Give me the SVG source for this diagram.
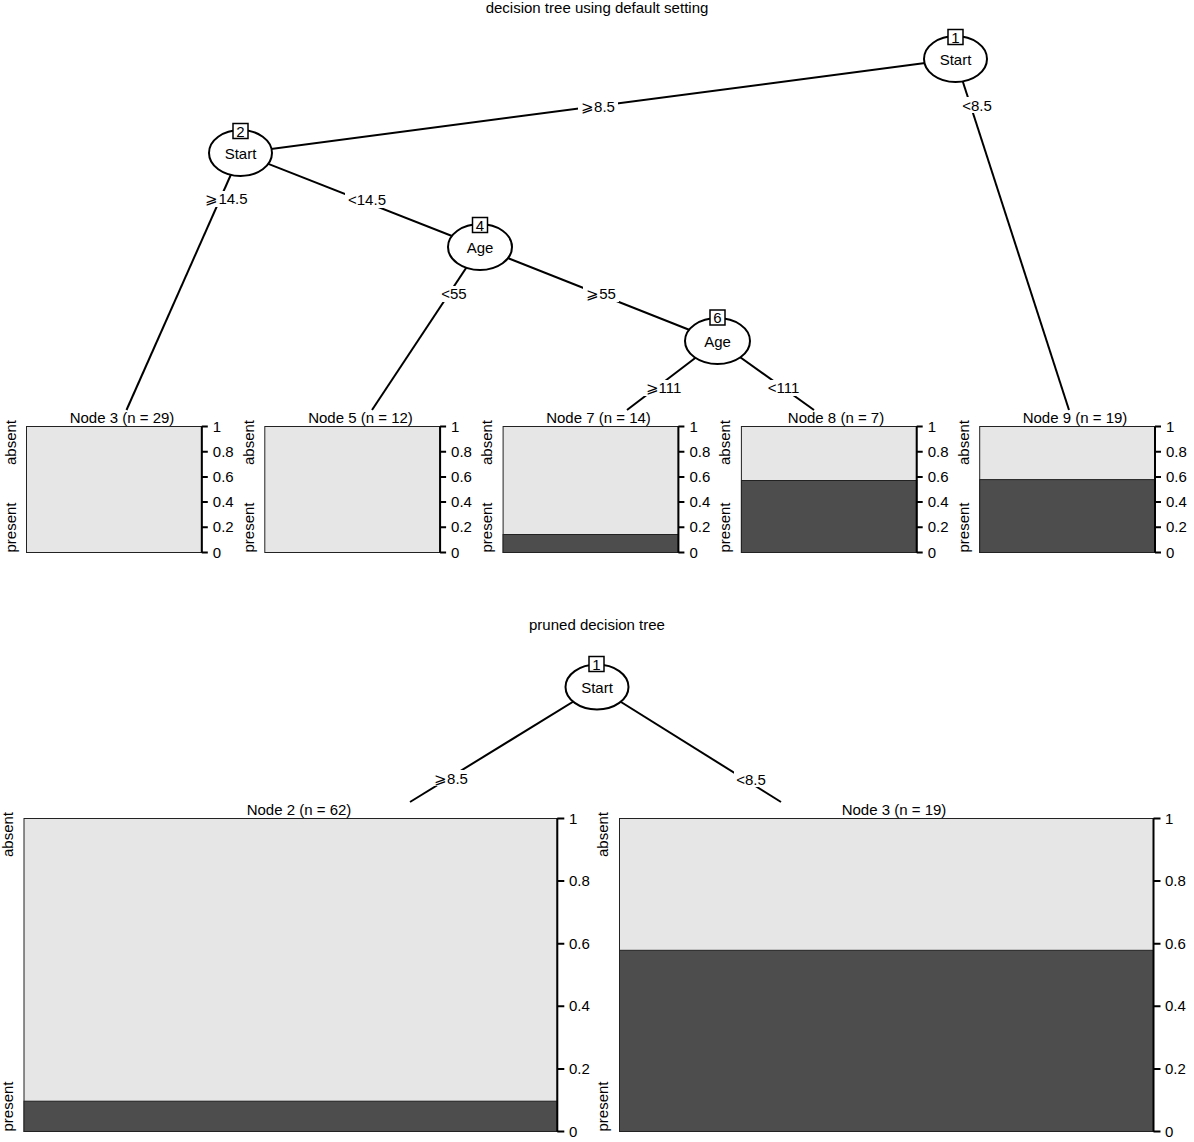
<svg xmlns="http://www.w3.org/2000/svg" width="1194" height="1142" viewBox="0 0 1194 1142">
  <style>
    text { font-family: "Liberation Sans", Arial, sans-serif; font-size: 15px; fill: #000; }
    .mid { text-anchor: middle; }
    .edge { stroke: #000; stroke-width: 2; fill: none; }
    .lblbg { fill: #fff; stroke: none; }
    .inner { fill: #fff; stroke: #000; stroke-width: 2; }
    .idbox { fill: #fff; stroke: #000; stroke-width: 1.5; }
    .light { fill: #e6e6e6; stroke: #222; stroke-width: 1; }
    .dark { fill: #4d4d4d; stroke: #222; stroke-width: 1; }
    .axis { stroke: #000; stroke-width: 2; fill: none; }
  </style>
  <rect width="1194" height="1142" fill="#fff"/>

  <!-- titles -->
  <text class="mid" x="597" y="13">decision tree using default setting</text>
  <text class="mid" x="597" y="630">pruned decision tree</text>

  <!-- connectors -->
  <g id="connectors">
    <line class="edge" x1="955.5" y1="59" x2="240.5" y2="153"/>
    <line class="edge" x1="955.5" y1="59" x2="1069" y2="410"/>
    <line class="edge" x1="240.5" y1="153" x2="126.5" y2="410"/>
    <line class="edge" x1="240.5" y1="153" x2="480" y2="247"/>
    <line class="edge" x1="480" y1="247" x2="372" y2="410"/>
    <line class="edge" x1="480" y1="247" x2="717.5" y2="341"/>
    <line class="edge" x1="717.5" y1="341" x2="627" y2="410"/>
    <line class="edge" x1="717.5" y1="341" x2="814" y2="410"/>
    <line class="edge" x1="597" y1="687" x2="410" y2="802"/>
    <line class="edge" x1="597" y1="687" x2="781" y2="802"/>

    <rect class="lblbg" x="578" y="98" width="40" height="16"/>
    <text class="mid" x="598" y="111.5">⩾8.5</text>
    <rect class="lblbg" x="960" y="97" width="34" height="16"/>
    <text class="mid" x="977" y="110.5">&lt;8.5</text>
    <rect class="lblbg" x="203" y="191" width="47" height="16"/>
    <text class="mid" x="226.5" y="204">⩾14.5</text>
    <rect class="lblbg" x="345" y="192" width="44" height="16"/>
    <text class="mid" x="367" y="205">&lt;14.5</text>
    <rect class="lblbg" x="438" y="286" width="32" height="16"/>
    <text class="mid" x="454" y="299">&lt;55</text>
    <rect class="lblbg" x="583" y="286" width="36" height="16"/>
    <text class="mid" x="601" y="299">⩾55</text>
    <rect class="lblbg" x="642" y="380" width="43" height="16"/>
    <text class="mid" x="663.5" y="393">⩾111</text>
    <rect class="lblbg" x="764" y="380" width="39" height="16"/>
    <text class="mid" x="783.5" y="393">&lt;111</text>
    <rect class="lblbg" x="431" y="770" width="40" height="16"/>
    <text class="mid" x="451" y="783.5">⩾8.5</text>
    <rect class="lblbg" x="734" y="771" width="34" height="16"/>
    <text class="mid" x="751" y="784.5">&lt;8.5</text>
  </g>

  <!-- inner nodes, full tree -->
  <g id="node-1">
    <ellipse class="inner" cx="955.5" cy="59" rx="31.5" ry="23"/>
    <text class="mid" x="955.5" y="64.5">Start</text>
    <rect class="idbox" x="948" y="29.5" width="15" height="15"/>
    <text class="mid" x="955.5" y="42.5">1</text>
  </g>
  <g id="node-2">
    <ellipse class="inner" cx="240.5" cy="153" rx="31.5" ry="23"/>
    <text class="mid" x="240.5" y="158.5">Start</text>
    <rect class="idbox" x="233" y="123.5" width="15" height="15"/>
    <text class="mid" x="240.5" y="136.5">2</text>
  </g>
  <g id="node-4">
    <ellipse class="inner" cx="480" cy="247" rx="32" ry="23"/>
    <text class="mid" x="480" y="252.5">Age</text>
    <rect class="idbox" x="472.5" y="217.5" width="15" height="15"/>
    <text class="mid" x="480" y="230.5">4</text>
  </g>
  <g id="node-6">
    <ellipse class="inner" cx="717.5" cy="341" rx="32.5" ry="23"/>
    <text class="mid" x="717.5" y="346.5">Age</text>
    <rect class="idbox" x="710" y="310" width="15" height="15"/>
    <text class="mid" x="717.5" y="323">6</text>
  </g>

  <!-- terminal nodes, full tree -->
  <g id="node-3">
    <text class="mid" x="122" y="423">Node 3 (n = 29)</text>
    <rect class="light" x="26.5" y="426.5" width="175.3" height="126"/>
    <path class="axis" d="M201.8 426.5V552.5M201.8 552.5h6M201.8 527.3h6M201.8 502.1h6M201.8 476.9h6M201.8 451.7h6M201.8 426.5h6"/>
    <text x="212.8" y="557.5">0</text><text x="212.8" y="532.3">0.2</text><text x="212.8" y="507.1">0.4</text><text x="212.8" y="481.9">0.6</text><text x="212.8" y="456.7">0.8</text><text x="212.8" y="431.5">1</text>
    <text transform="translate(15.5 420) rotate(-90)" text-anchor="end">absent</text>
    <text transform="translate(15.5 552.5) rotate(-90)">present</text>
  </g>
  <g id="node-5">
    <text class="mid" x="360.5" y="423">Node 5 (n = 12)</text>
    <rect class="light" x="264.8" y="426.5" width="175.3" height="126"/>
    <path class="axis" d="M440.1 426.5V552.5M440.1 552.5h6M440.1 527.3h6M440.1 502.1h6M440.1 476.9h6M440.1 451.7h6M440.1 426.5h6"/>
    <text x="451.1" y="557.5">0</text><text x="451.1" y="532.3">0.2</text><text x="451.1" y="507.1">0.4</text><text x="451.1" y="481.9">0.6</text><text x="451.1" y="456.7">0.8</text><text x="451.1" y="431.5">1</text>
    <text transform="translate(253.8 420) rotate(-90)" text-anchor="end">absent</text>
    <text transform="translate(253.8 552.5) rotate(-90)">present</text>
  </g>
  <g id="node-7">
    <text class="mid" x="598.5" y="423">Node 7 (n = 14)</text>
    <rect class="light" x="503.1" y="426.5" width="175.3" height="126"/>
    <rect class="dark" x="503.1" y="534.5" width="175.3" height="18"/>
    <path class="axis" d="M678.4 426.5V552.5M678.4 552.5h6M678.4 527.3h6M678.4 502.1h6M678.4 476.9h6M678.4 451.7h6M678.4 426.5h6"/>
    <text x="689.4" y="557.5">0</text><text x="689.4" y="532.3">0.2</text><text x="689.4" y="507.1">0.4</text><text x="689.4" y="481.9">0.6</text><text x="689.4" y="456.7">0.8</text><text x="689.4" y="431.5">1</text>
    <text transform="translate(492.1 420) rotate(-90)" text-anchor="end">absent</text>
    <text transform="translate(492.1 552.5) rotate(-90)">present</text>
  </g>
  <g id="node-8">
    <text class="mid" x="836" y="423">Node 8 (n = 7)</text>
    <rect class="light" x="741.4" y="426.5" width="175.3" height="126"/>
    <rect class="dark" x="741.4" y="480.5" width="175.3" height="72"/>
    <path class="axis" d="M916.7 426.5V552.5M916.7 552.5h6M916.7 527.3h6M916.7 502.1h6M916.7 476.9h6M916.7 451.7h6M916.7 426.5h6"/>
    <text x="927.7" y="557.5">0</text><text x="927.7" y="532.3">0.2</text><text x="927.7" y="507.1">0.4</text><text x="927.7" y="481.9">0.6</text><text x="927.7" y="456.7">0.8</text><text x="927.7" y="431.5">1</text>
    <text transform="translate(730.4 420) rotate(-90)" text-anchor="end">absent</text>
    <text transform="translate(730.4 552.5) rotate(-90)">present</text>
  </g>
  <g id="node-9">
    <text class="mid" x="1075" y="423">Node 9 (n = 19)</text>
    <rect class="light" x="979.7" y="426.5" width="175.3" height="126"/>
    <rect class="dark" x="979.7" y="479.6" width="175.3" height="72.9"/>
    <path class="axis" d="M1155 426.5V552.5M1155 552.5h6M1155 527.3h6M1155 502.1h6M1155 476.9h6M1155 451.7h6M1155 426.5h6"/>
    <text x="1166" y="557.5">0</text><text x="1166" y="532.3">0.2</text><text x="1166" y="507.1">0.4</text><text x="1166" y="481.9">0.6</text><text x="1166" y="456.7">0.8</text><text x="1166" y="431.5">1</text>
    <text transform="translate(968.7 420) rotate(-90)" text-anchor="end">absent</text>
    <text transform="translate(968.7 552.5) rotate(-90)">present</text>
  </g>

  <!-- pruned tree -->
  <g id="pruned-node-1">
    <ellipse class="inner" cx="597" cy="687" rx="31.5" ry="22.5"/>
    <text class="mid" x="597" y="692.5">Start</text>
    <rect class="idbox" x="589" y="656.5" width="15" height="15"/>
    <text class="mid" x="596.5" y="669.5">1</text>
  </g>
  <g id="pruned-node-2">
    <text class="mid" x="299" y="815">Node 2 (n = 62)</text>
    <rect class="light" x="24" y="818.5" width="533.3" height="313"/>
    <rect class="dark" x="24" y="1101.2" width="533.3" height="30.3"/>
    <path class="axis" d="M557.3 818.5V1131.5M557.3 1131.5h7M557.3 1068.9h7M557.3 1006.3h7M557.3 943.7h7M557.3 881.1h7M557.3 818.5h7"/>
    <text x="569" y="1136.5">0</text><text x="569" y="1073.9">0.2</text><text x="569" y="1011.3">0.4</text><text x="569" y="948.7">0.6</text><text x="569" y="886.1">0.8</text><text x="569" y="823.5">1</text>
    <text transform="translate(13 812) rotate(-90)" text-anchor="end">absent</text>
    <text transform="translate(13 1131.5) rotate(-90)">present</text>
  </g>
  <g id="pruned-node-3">
    <text class="mid" x="894" y="815">Node 3 (n = 19)</text>
    <rect class="light" x="619.5" y="818.5" width="534" height="313"/>
    <rect class="dark" x="619.5" y="950.3" width="534" height="181.2"/>
    <path class="axis" d="M1153.5 818.5V1131.5M1153.5 1131.5h7M1153.5 1068.9h7M1153.5 1006.3h7M1153.5 943.7h7M1153.5 881.1h7M1153.5 818.5h7"/>
    <text x="1165" y="1136.5">0</text><text x="1165" y="1073.9">0.2</text><text x="1165" y="1011.3">0.4</text><text x="1165" y="948.7">0.6</text><text x="1165" y="886.1">0.8</text><text x="1165" y="823.5">1</text>
    <text transform="translate(608 812) rotate(-90)" text-anchor="end">absent</text>
    <text transform="translate(608 1131.5) rotate(-90)">present</text>
  </g>
</svg>
